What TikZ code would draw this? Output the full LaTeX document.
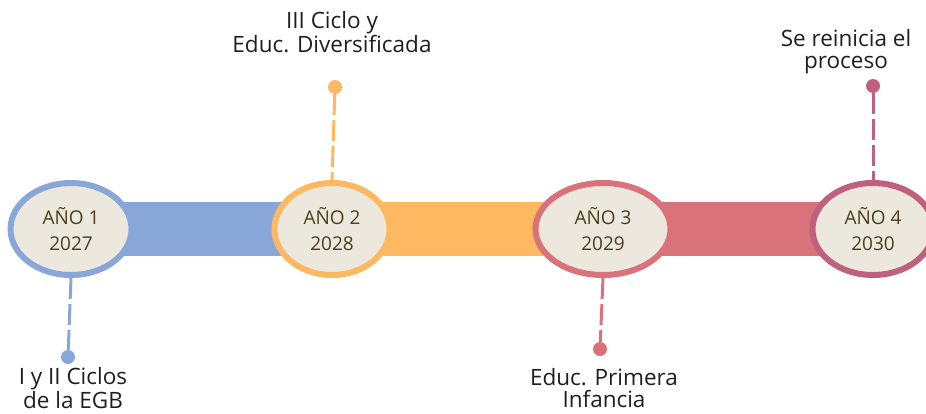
\documentclass[tikz,border=0pt]{standalone}
\usepackage{fontspec}
\setmainfont{Open Sans}
\usepackage{tikz}
\usetikzlibrary{shapes.geometric}
\usetikzlibrary{backgrounds}

\definecolor{ringblue}{HTML}{88A7D8}
\definecolor{ringorange}{HTML}{FFB862}
\definecolor{ringred}{HTML}{D9727A}
\definecolor{ringpurple}{HTML}{C0607F}
\definecolor{yearfill}{HTML}{EDE8DD}
\definecolor{yeartext}{HTML}{4A3E1C}

\begin{document}
\begin{tikzpicture}[x=1pt, y=-1pt,
		year/.style={ellipse, draw, line width=6pt, fill=yearfill, text=yeartext,
			minimum height=92pt, align=center, inner sep=0pt,
			font=\fontsize{19}{26}\selectfont},
		bar/.style={line width=54pt},
		conn/.style={line width=3pt, dash pattern=on 21pt off 5pt},
		dot/.style={circle, fill, inner sep=0pt, minimum size=14pt},
		stage/.style={align=center, text=black!88, inner sep=0pt,
			font=\fontsize{22.5}{22}\selectfont}]
	\useasboundingbox (0,0) rectangle (926,413);

	% years
	\node[year, draw=ringblue, minimum width=121pt] (y1) at (71, 229) {AÑO 1\\2027};
	\node[year, draw=ringorange, minimum width=115pt] (y2) at (332, 229) {AÑO 2\\2028};
	\node[year, draw=ringred, minimum width=135pt] (y3) at (603, 229) {AÑO 3\\2029};
	\node[year, draw=ringpurple, minimum width=121pt] (y4) at (873, 229) {AÑO 4\\2030};

	\begin{scope}[on background layer]
		\draw[bar, ringblue] (y1.center) -- (y2.center);
		\draw[bar, ringorange] (y2.center) -- (y3.center);
		\draw[bar, ringred] (y3.center) -- (y4.center);
	\end{scope}

	% end points
	\node[dot, ringblue] (d1) at (68, 357) {};
	\node[dot, ringorange] (d2) at (335, 87) {};
	\node[dot, ringred] (d3) at (600, 349) {};
	\node[dot, ringpurple] (d4) at (873, 86) {};

	\draw[conn, ringblue] (y1.south) -- (d1);
	\draw[conn, ringorange] (d2) -- (y2.north);
	\draw[conn, ringred] (y3.south) -- (d3);
	\draw[conn, ringpurple] (d4) -- (y4.north);

	% stages
	\node[stage] (s1) at (73, 388) {I y II Ciclos\\de la EGB};
	\node[stage] (s2) at (332, 32) {III Ciclo y\\Educ. Diversificada};
	\node[stage] (s3) at (604, 388) {Educ. Primera\\Infancia};
	\node[stage] (s4) at (846, 52) {Se reinicia el\\proceso};
\end{tikzpicture}
\end{document}
